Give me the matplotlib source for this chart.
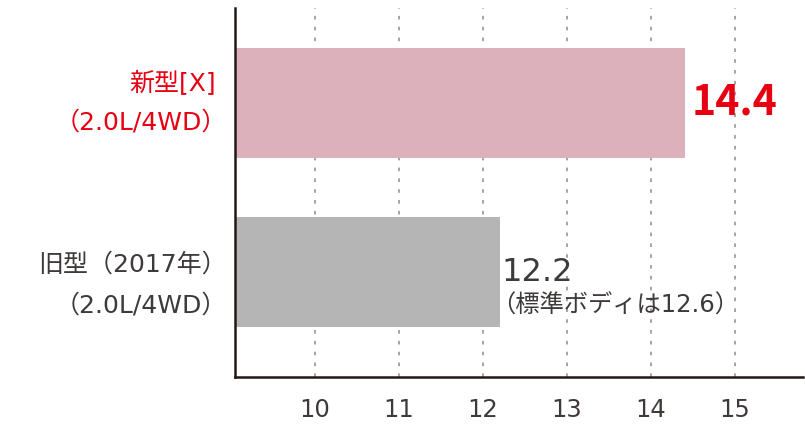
import matplotlib
matplotlib.use("Agg")
import matplotlib.pyplot as plt

plt.rcParams["font.family"] = ["DejaVu Sans", "Noto Sans CJK JP"]

categories = ["新型[X]\n（2.0L/4WD）", "旧型（2017年）\n（2.0L/4WD）"]
values = [14.4, 12.2]
value_labels = ["14.4", "12.2"]
note_label = "（標準ボディは12.6）"
xticks = [10, 11, 12, 13, 14, 15]

bar_colors = ["#dcb1bb", "#b4b5b4"]
text_colors = ["#e60012", "#3e3a39"]
ypos = [1, 0]

fig = plt.figure(figsize=(8.05, 4.25), dpi=100)
ax = fig.add_axes([235 / 805, 48 / 425, 568 / 805, 369 / 425])

ax.barh(ypos, values, height=0.65, color=bar_colors, zorder=2)
ax.set_xlim(9.05, 15.81)
ax.set_ylim(-0.621, 1.562)

ax.set_xticks(xticks)
ax.set_xticklabels([str(t) for t in xticks], fontsize=17.5, color="#3e3a39")
ax.tick_params(axis="x", length=0, pad=15)
ax.set_yticks([])
ax.grid(axis="x", color="#9d9d9d", linestyle=(0, (2, 4)), linewidth=1.3, zorder=0)

for s in ["top", "right"]:
    ax.spines[s].set_visible(False)
for s in ["left", "bottom"]:
    ax.spines[s].set_color("#231815")
    ax.spines[s].set_linewidth(1.8)

# category labels left of the axis, one line at a time (offsets in points)
line_dy = [[14.0, -13.7], [5.0, -23.8]]
for y, lab, c, dys in zip(ypos, categories, text_colors, line_dy):
    for line, dy in zip(lab.split("\n"), dys):
        # full-width closing paren carries blank space on its right
        dx = -6 if line.endswith("）") else -14
        ax.annotate(line, xy=(0, y), xycoords=("axes fraction", "data"),
                    xytext=(dx, dy), textcoords="offset points",
                    ha="right", va="center", fontsize=18, color=c)

# value labels
ax.annotate(value_labels[0], xy=(values[0], ypos[0]), xytext=(5, 0),
            textcoords="offset points", ha="left", va="center",
            fontsize=29.5, fontweight="bold", color=text_colors[0],
            family="Noto Sans CJK JP")
ax.annotate(value_labels[1], xy=(values[1], ypos[1]), xytext=(1, -0.5),
            textcoords="offset points", ha="left", va="center",
            fontsize=23, color=text_colors[1])
ax.annotate(note_label, xy=(values[1], ypos[1]), xytext=(-6, -24.2),
            textcoords="offset points", ha="left", va="center",
            fontsize=17.5, color=text_colors[1])

fig.savefig("out.png", dpi=100)
